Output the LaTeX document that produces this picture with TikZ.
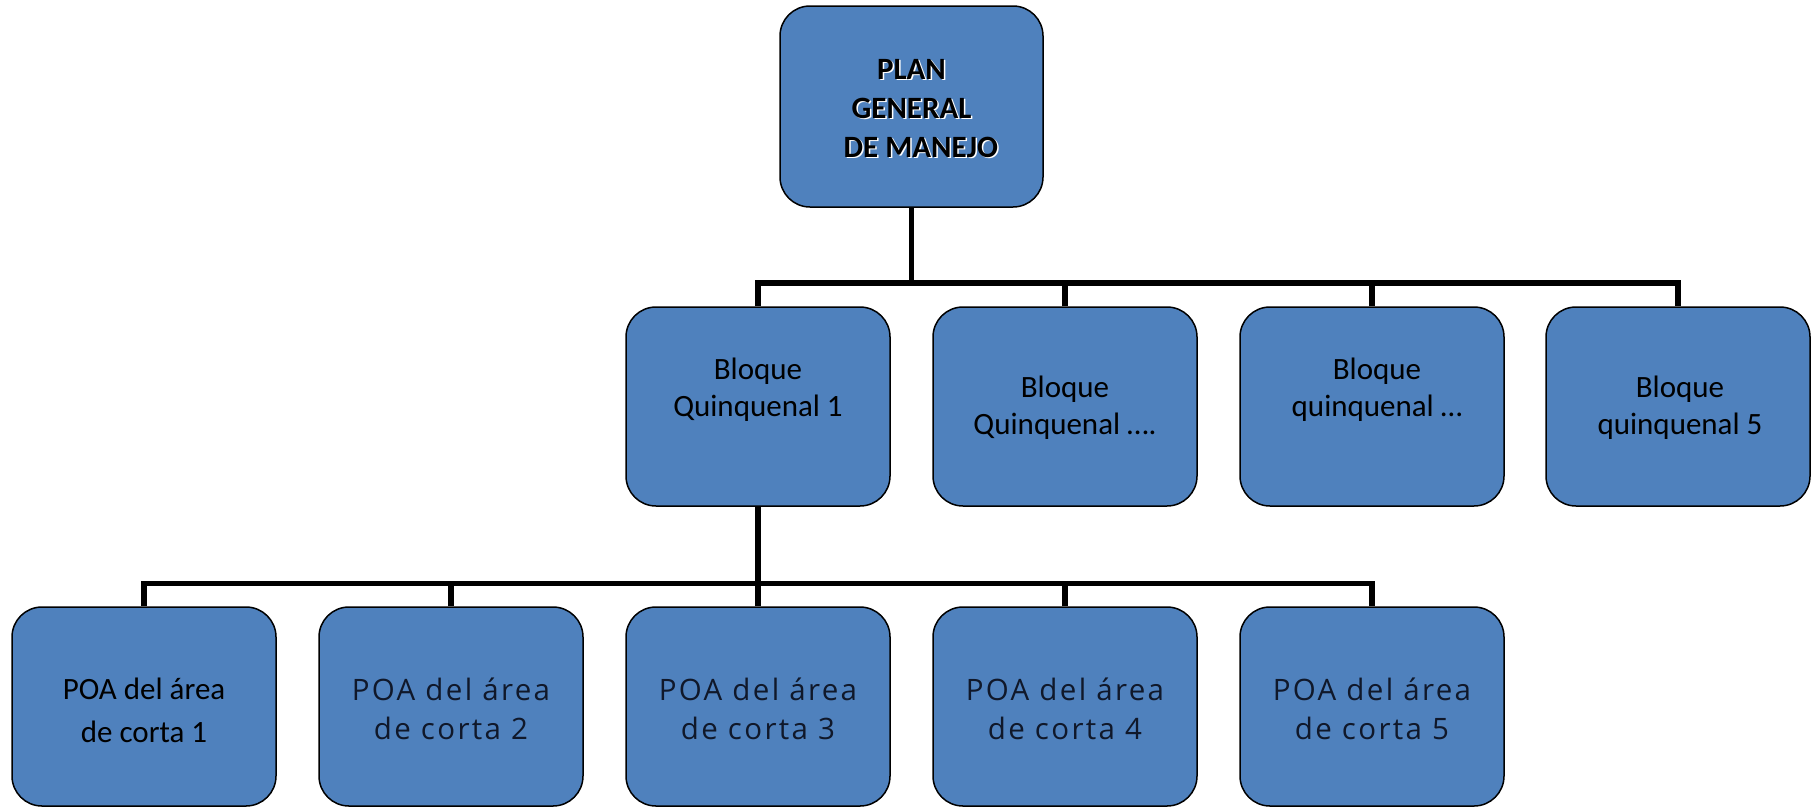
\documentclass[tikz,border=0pt]{standalone}
\usepackage{fontspec}
\setmainfont{Carlito}
\newfontfamily\lightfont[LetterSpace=8]{Open Sans}
\definecolor{boxblue}{HTML}{4F81BD}
\definecolor{lighttext}{HTML}{10182A}
\begin{document}
\begin{tikzpicture}[x=1pt,y=-1pt,
  box/.style={draw=black, line width=1.5pt, fill=boxblue, rounded corners=30pt,
    minimum width=264pt, minimum height=199pt, inner sep=0pt},
  conn/.style={line width=5.5pt, line join=miter, line cap=butt},
  lbl/.style={align=center, font=\fontsize{31}{37}\selectfont, inner sep=0pt},
  lblpoa/.style={align=center, font=\fontsize{31}{43}\selectfont, inner sep=0pt},
  lbllight/.style={align=center, text=lighttext, font=\lightfont\fontsize{29.5}{39}\selectfont, inner sep=0pt},
  lbltop/.style={align=center, font=\bfseries\fontsize{31}{39}\selectfont, inner sep=0pt}]
\useasboundingbox (0,0) rectangle (1814,806);

% top
\node[box, minimum width=263pt, minimum height=201pt] (top) at (911.5,106.5) {};
\node[lbltop, text=white] (topshadow) at (913,110) {PLAN\\GENERAL\\\hspace{0.6em}DE MANEJO};
\node[lbltop] (toptext) at (911.5,108.5) {PLAN\\GENERAL\\\hspace{0.6em}DE MANEJO};

% row 2
\node[box] (b1) at (758,406.5) {};
\node[box] (b2) at (1065,406.5) {};
\node[box] (b3) at (1372,406.5) {};
\node[box] (b4) at (1678,406.5) {};
\node[lbl] (t1) at (758,390) {Bloque\\Quinquenal 1};
\node[lbl] (t2) at (1065,408) {Bloque\\Quinquenal  ….};
\node[lbl] (t3) at (1377,390) {Bloque\\quinquenal  …};
\node[lbl] (t4) at (1680,408) {Bloque\\quinquenal 5};

% row 3
\node[box] (c1) at (144,706.5) {};
\node[box] (c2) at (451,706.5) {};
\node[box] (c3) at (758,706.5) {};
\node[box] (c4) at (1065,706.5) {};
\node[box] (c5) at (1372,706.5) {};
\node[lblpoa] (p1) at (144,710) {POA del área\\de corta 1};
\node[lbllight] (p2) at (451,709) {POA del área\\de corta 2};
\node[lbllight] (p3) at (758,709) {POA del área\\de corta 3};
\node[lbllight] (p4) at (1065,709) {POA del área\\de corta 4};
\node[lbllight] (p5) at (1372,709) {POA del área\\de corta 5};

% connectors
\coordinate (bus1) at (0,283);
\coordinate (bus2) at (0,583.5);
\draw[conn] (top.south) -- (top.south |- bus1);
\draw[conn] (b1.north) -- (b1.north |- bus1) -- (b4.north |- bus1) -- (b4.north);
\draw[conn] (b2.north) -- (b2.north |- bus1);
\draw[conn] (b3.north) -- (b3.north |- bus1);

\draw[conn] (b1.south) -- (b1.south |- bus2);
\draw[conn] (c1.north) -- (c1.north |- bus2) -- (c5.north |- bus2) -- (c5.north);
\draw[conn] (c2.north) -- (c2.north |- bus2);
\draw[conn] (c3.north) -- (c3.north |- bus2);
\draw[conn] (c4.north) -- (c4.north |- bus2);
\end{tikzpicture}
\end{document}
